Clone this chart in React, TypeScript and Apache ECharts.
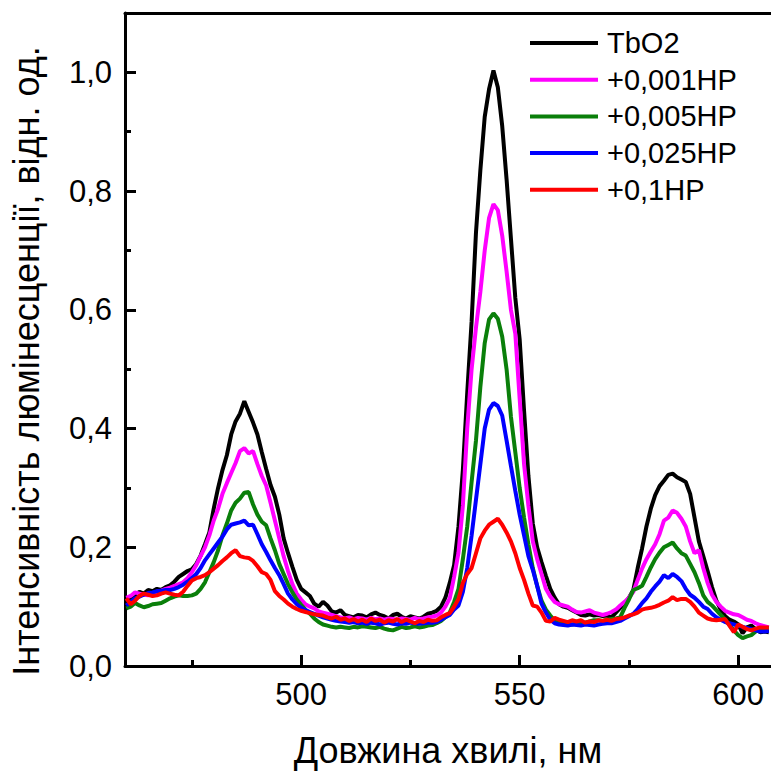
import React, { useEffect, useRef } from "react";
import * as echarts from "echarts";

const wavelengths = [
  460, 461, 462, 463, 464, 465, 466, 467, 468, 469,
  470, 471, 472, 473, 474, 475, 476, 477, 478, 479,
  480, 481, 482, 483, 484, 485, 486, 487, 488, 489,
  490, 491, 492, 493, 494, 495, 496, 497, 498, 499,
  500, 501, 502, 503, 504, 505, 506, 507, 508, 509,
  510, 511, 512, 513, 514, 515, 516, 517, 518, 519,
  520, 521, 522, 523, 524, 525, 526, 527, 528, 529,
  530, 531, 532, 533, 534, 535, 536, 537, 538, 539,
  540, 541, 542, 543, 544, 545, 546, 547, 548, 549,
  550, 551, 552, 553, 554, 555, 556, 557, 558, 559,
  560, 561, 562, 563, 564, 565, 566, 567, 568, 569,
  570, 571, 572, 573, 574, 575, 576, 577, 578, 579,
  580, 581, 582, 583, 584, 585, 586, 587, 588, 589,
  590, 591, 592, 593, 594, 595, 596, 597, 598, 599,
  600, 601, 602, 603, 604, 605, 606, 607,
];

const seriesNames = ["TbO2", "+0,001HP", "+0,005HP", "+0,025HP", "+0,1HP"];
const seriesColors = ["#000000", "#ff00ff", "#0a7f0a", "#0000ff", "#ff0000"];

const tbo2 = [
  0.110, 0.115, 0.118, 0.125, 0.122, 0.128, 0.126, 0.130, 0.128, 0.133,
  0.136, 0.142, 0.150, 0.155, 0.160, 0.163, 0.172, 0.186, 0.205, 0.225,
  0.265, 0.300, 0.330, 0.355, 0.390, 0.412, 0.425, 0.446, 0.428, 0.410,
  0.390, 0.360, 0.332, 0.305, 0.285, 0.255, 0.215, 0.190, 0.167, 0.145,
  0.130, 0.124, 0.118, 0.105, 0.100, 0.108, 0.102, 0.092, 0.090, 0.094,
  0.086, 0.084, 0.082, 0.086, 0.085, 0.082, 0.087, 0.090, 0.086, 0.084,
  0.080, 0.086, 0.088, 0.083, 0.080, 0.084, 0.082, 0.080, 0.083, 0.088,
  0.090, 0.093, 0.100, 0.115, 0.140, 0.170, 0.235, 0.330, 0.460, 0.580,
  0.730, 0.835, 0.925, 0.972, 1.003, 0.975, 0.910, 0.820, 0.720, 0.620,
  0.550, 0.430, 0.320, 0.240, 0.200, 0.175, 0.152, 0.130, 0.115, 0.104,
  0.100, 0.098, 0.094, 0.090, 0.086, 0.085, 0.087, 0.085, 0.086, 0.084,
  0.085, 0.082, 0.090, 0.098, 0.105, 0.115, 0.128, 0.165, 0.198, 0.235,
  0.265, 0.288, 0.303, 0.312, 0.322, 0.324, 0.318, 0.314, 0.310, 0.290,
  0.250, 0.210, 0.185, 0.160, 0.133, 0.110, 0.095, 0.084, 0.078, 0.075,
  0.070, 0.055, 0.065, 0.068, 0.062, 0.057, 0.058, 0.057,
];

const hp001 = [
  0.115, 0.118, 0.124, 0.122, 0.120, 0.119, 0.122, 0.125, 0.127, 0.130,
  0.132, 0.135, 0.138, 0.141, 0.148, 0.158, 0.170, 0.185, 0.200, 0.220,
  0.245, 0.265, 0.290, 0.308, 0.325, 0.342, 0.362, 0.367, 0.358, 0.362,
  0.340, 0.320, 0.304, 0.275, 0.245, 0.215, 0.185, 0.160, 0.138, 0.122,
  0.112, 0.104, 0.100, 0.097, 0.092, 0.090, 0.088, 0.086, 0.084, 0.082,
  0.080, 0.082, 0.079, 0.081, 0.080, 0.078, 0.081, 0.079, 0.080, 0.078,
  0.080, 0.079, 0.078, 0.080, 0.079, 0.078, 0.081, 0.079, 0.080, 0.082,
  0.083, 0.085, 0.090, 0.100, 0.114, 0.150, 0.191, 0.270, 0.400, 0.500,
  0.570, 0.630, 0.700, 0.755, 0.778, 0.768, 0.725, 0.665, 0.600, 0.560,
  0.450, 0.340, 0.270, 0.210, 0.180, 0.155, 0.130, 0.117, 0.108, 0.104,
  0.102, 0.100, 0.095, 0.091, 0.090, 0.092, 0.094, 0.090, 0.088, 0.086,
  0.088, 0.091, 0.095, 0.102, 0.108, 0.115, 0.125, 0.145, 0.164, 0.180,
  0.193, 0.205, 0.222, 0.245, 0.250, 0.262, 0.258, 0.248, 0.235, 0.210,
  0.190, 0.195, 0.165, 0.140, 0.120, 0.108, 0.100, 0.093, 0.090, 0.087,
  0.086, 0.082, 0.078, 0.076, 0.072, 0.069, 0.067, 0.065,
];

const hp005 = [
  0.097, 0.100, 0.106, 0.102, 0.099, 0.101, 0.104, 0.105, 0.106, 0.110,
  0.114, 0.117, 0.119, 0.118, 0.118, 0.119, 0.122, 0.130, 0.141, 0.158,
  0.175, 0.195, 0.220, 0.240, 0.262, 0.275, 0.282, 0.292, 0.293, 0.272,
  0.255, 0.243, 0.237, 0.215, 0.195, 0.172, 0.155, 0.138, 0.124, 0.112,
  0.103, 0.095, 0.088, 0.080, 0.074, 0.070, 0.068, 0.066, 0.065, 0.066,
  0.065, 0.064, 0.066, 0.065, 0.067, 0.066, 0.065, 0.064, 0.066, 0.063,
  0.061, 0.060, 0.063, 0.066, 0.064, 0.065, 0.067, 0.065, 0.066, 0.068,
  0.069, 0.072, 0.076, 0.082, 0.090, 0.108, 0.130, 0.180, 0.235, 0.310,
  0.380, 0.470, 0.544, 0.584, 0.594, 0.585, 0.555, 0.500, 0.420, 0.360,
  0.300, 0.250, 0.205, 0.165, 0.135, 0.110, 0.095, 0.085, 0.076, 0.072,
  0.071, 0.069, 0.070, 0.071, 0.072, 0.073, 0.075, 0.077, 0.077, 0.076,
  0.078, 0.079, 0.080, 0.082, 0.098, 0.112, 0.128, 0.131, 0.135, 0.150,
  0.166, 0.180, 0.191, 0.200, 0.204, 0.208, 0.198, 0.190, 0.186, 0.172,
  0.158, 0.140, 0.119, 0.108, 0.102, 0.094, 0.086, 0.078, 0.069, 0.060,
  0.052, 0.047, 0.050, 0.052, 0.058, 0.063, 0.064, 0.064,
];

const hp025 = [
  0.102, 0.108, 0.114, 0.117, 0.120, 0.123, 0.124, 0.126, 0.127, 0.128,
  0.128, 0.130, 0.133, 0.137, 0.142, 0.148, 0.155, 0.165, 0.178, 0.188,
  0.198, 0.208, 0.218, 0.230, 0.238, 0.240, 0.242, 0.245, 0.237, 0.238,
  0.222, 0.205, 0.192, 0.178, 0.165, 0.153, 0.138, 0.122, 0.112, 0.104,
  0.098, 0.094, 0.091, 0.088, 0.085, 0.082, 0.080, 0.078, 0.076, 0.075,
  0.074, 0.073, 0.074, 0.072, 0.073, 0.071, 0.073, 0.072, 0.070, 0.072,
  0.073, 0.071, 0.070, 0.072, 0.071, 0.073, 0.072, 0.071, 0.072, 0.073,
  0.073, 0.074, 0.078, 0.082, 0.086, 0.095, 0.102, 0.125, 0.165, 0.220,
  0.280, 0.340, 0.400, 0.432, 0.443, 0.438, 0.422, 0.380, 0.337, 0.295,
  0.255, 0.220, 0.185, 0.162, 0.135, 0.105, 0.090, 0.078, 0.072, 0.070,
  0.069, 0.068, 0.070, 0.069, 0.068, 0.070, 0.069, 0.068, 0.070, 0.071,
  0.072, 0.072, 0.074, 0.076, 0.080, 0.084, 0.088, 0.096, 0.106, 0.114,
  0.125, 0.134, 0.142, 0.153, 0.148, 0.155, 0.150, 0.143, 0.130, 0.120,
  0.115, 0.108, 0.100, 0.096, 0.088, 0.082, 0.078, 0.074, 0.072, 0.070,
  0.068, 0.066, 0.064, 0.062, 0.060, 0.058, 0.058, 0.059,
];

const hp1 = [
  0.114, 0.104, 0.110, 0.118, 0.122, 0.120, 0.118, 0.119, 0.122, 0.124,
  0.122, 0.120, 0.119, 0.125, 0.135, 0.144, 0.148, 0.150, 0.153, 0.158,
  0.164, 0.170, 0.177, 0.183, 0.190, 0.195, 0.185, 0.183, 0.182, 0.177,
  0.168, 0.158, 0.155, 0.145, 0.126, 0.118, 0.112, 0.105, 0.100, 0.096,
  0.093, 0.091, 0.089, 0.087, 0.086, 0.085, 0.082, 0.080, 0.083, 0.078,
  0.080, 0.076, 0.079, 0.075, 0.078, 0.074, 0.080, 0.076, 0.078, 0.073,
  0.077, 0.075, 0.079, 0.074, 0.078, 0.075, 0.072, 0.076, 0.074, 0.078,
  0.076, 0.077, 0.082, 0.086, 0.089, 0.100, 0.113, 0.140, 0.155, 0.165,
  0.190, 0.215, 0.228, 0.238, 0.243, 0.248, 0.238, 0.225, 0.210, 0.190,
  0.165, 0.145, 0.122, 0.102, 0.100, 0.090, 0.076, 0.075, 0.081, 0.078,
  0.076, 0.074, 0.077, 0.075, 0.077, 0.073, 0.075, 0.074, 0.077, 0.076,
  0.078, 0.076, 0.079, 0.080, 0.082, 0.085, 0.087, 0.090, 0.095, 0.097,
  0.098, 0.100, 0.103, 0.107, 0.110, 0.116, 0.111, 0.113, 0.113, 0.108,
  0.100, 0.090, 0.085, 0.080, 0.078, 0.077, 0.078, 0.079, 0.068, 0.057,
  0.070, 0.066, 0.062, 0.060, 0.063, 0.065, 0.065, 0.065,
];

const majorXTicks = [500, 550, 600];
const minorXTicks = [475, 525, 575];
const majorYTicks = [0, 0.2, 0.4, 0.6, 0.8, 1.0];
const minorYTicks = [0.1, 0.3, 0.5, 0.7, 0.9];

const xTitle = "Довжина хвилі, нм";
const yTitle = "Інтенсивність люмінесценції, відн. од.";

const FONT = "'Liberation Sans', Arial, Helvetica, sans-serif";
const X_MIN = 459.7;
const X_MAX = 607.5;
const Y_MIN = 0;
const Y_MAX = 1.1;

export default function App() {
  const ref = useRef<HTMLDivElement>(null);

  useEffect(() => {
    document.body.style.margin = "0";
    if (!ref.current) return;
    const chart = echarts.init(ref.current, undefined, { renderer: "svg" });
    const allSeries = [tbo2, hp001, hp005, hp025, hp1];
    const axisLineStyle = { color: "#000", width: 3 };

    chart.setOption({
      animation: false,
      backgroundColor: "#fff",
      grid: { left: 125, right: 0, top: 13, bottom: 102, containLabel: false },
      legend: {
        orient: "vertical",
        left: 530,
        top: 28,
        padding: 0,
        itemWidth: 68,
        itemHeight: 4,
        itemGap: 6.7,
        icon: "rect",
        data: seriesNames,
        textStyle: {
          fontFamily: FONT,
          fontSize: 29,
          lineHeight: 30,
          color: "#000",
          padding: [0, 0, 0, 4],
        },
      },
      xAxis: [
        {
          type: "value",
          min: X_MIN,
          max: X_MAX,
          position: "bottom",
          axisLine: { show: true, lineStyle: axisLineStyle },
          axisTick: {
            show: true,
            inside: true,
            length: 11,
            customValues: majorXTicks,
            lineStyle: axisLineStyle,
          },
          axisLabel: {
            customValues: majorXTicks,
            margin: 13,
            fontFamily: FONT,
            fontSize: 31,
            color: "#000",
          },
          splitLine: { show: false },
          name: xTitle,
          nameLocation: "middle",
          nameGap: 66,
          nameTextStyle: { fontFamily: FONT, fontSize: 36, color: "#000" },
        },
        {
          type: "value",
          min: X_MIN,
          max: X_MAX,
          position: "bottom",
          axisLine: { show: false },
          axisTick: {
            show: true,
            inside: true,
            length: 6,
            customValues: minorXTicks,
            lineStyle: axisLineStyle,
          },
          axisLabel: { show: false },
          splitLine: { show: false },
        },
        {
          type: "value",
          min: X_MIN,
          max: X_MAX,
          position: "top",
          axisLine: { show: true, lineStyle: axisLineStyle },
          axisTick: { show: false },
          axisLabel: { show: false },
          splitLine: { show: false },
        },
      ],
      yAxis: [
        {
          type: "value",
          min: Y_MIN,
          max: Y_MAX,
          position: "left",
          axisLine: { show: true, lineStyle: axisLineStyle },
          axisTick: {
            show: true,
            inside: true,
            length: 11,
            customValues: majorYTicks,
            lineStyle: axisLineStyle,
          },
          axisLabel: {
            customValues: majorYTicks,
            margin: 13,
            fontFamily: FONT,
            fontSize: 31,
            color: "#000",
            formatter: (v: number) => v.toFixed(1).replace(".", ","),
          },
          splitLine: { show: false },
        },
        {
          type: "value",
          min: Y_MIN,
          max: Y_MAX,
          position: "left",
          axisLine: { show: false },
          axisTick: {
            show: true,
            inside: true,
            length: 6,
            customValues: minorYTicks,
            lineStyle: axisLineStyle,
          },
          axisLabel: { show: false },
          splitLine: { show: false },
        },
      ],
      graphic: [
        {
          type: "text",
          x: 26,
          y: 361,
          rotation: Math.PI / 2,
          silent: true,
          style: {
            text: yTitle,
            fontFamily: FONT,
            fontSize: 36,
            fill: "#000",
            align: "center",
            verticalAlign: "middle",
            textAlign: "center",
            textVerticalAlign: "middle",
          },
        },
      ],
      series: allSeries.map((vals, i) => ({
        name: seriesNames[i],
        type: "line",
        xAxisIndex: 0,
        yAxisIndex: 0,
        showSymbol: false,
        symbol: "none",
        smooth: false,
        clip: true,
        color: seriesColors[i],
        lineStyle: { color: seriesColors[i], width: 4 },
        data: wavelengths.map((w, j) => [w, vals[j]]),
        z: 2 + i,
      })),
    });

    return () => {
      chart.dispose();
    };
  }, []);

  return <div ref={ref} style={{ width: 771, height: 773 }} />;
}
